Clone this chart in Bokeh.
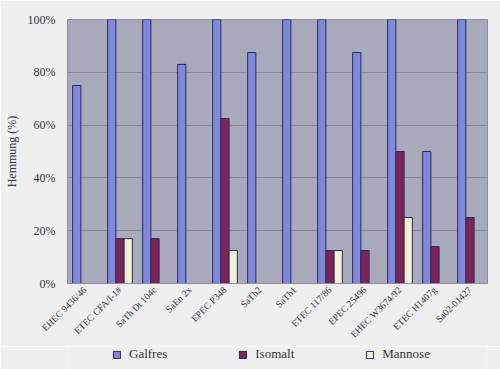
from bokeh.plotting import figure
from bokeh.layouts import column
from bokeh.models import ColumnDataSource, FactorRange, Legend, LegendItem, NumeralTickFormatter, FixedTicker, Range1d
from bokeh.transform import dodge
from bokeh.embed import file_html
from bokeh.resources import INLINE

strains = ["EHEC 9436/46", "ETEC CFA/I-1#", "SaTh Dt 104c", "SaEn 2x", "EPEC P348",
           "SaTh2", "SaTh1", "ETEC 117/86", "EPEC 25496", "EHEC W3674/92",
           "ETEC H1407g", "Sa02-01427"]
galfres = [75, 100, 100, 83, 100, 87.5, 100, 100, 87.5, 100, 50, 100]
isomalt = [0, 17, 17, 0, 62.5, 0, 0, 12.5, 12.5, 50, 14, 25]
mannose = [0, 17, 0, 0, 12.5, 0, 0, 12.5, 0, 25, 0, 0]
series = ["Galfres", "Isomalt", "Mannose"]
colors = ["#8088dc", "#7c2458", "#f2f0d4"]
yticks = [0, 20, 40, 60, 80, 100]

BG = "#efefef"
EDGE = "#2a2a5c"
fonts = "Liberation Serif"

src = ColumnDataSource(dict(x=strains, g=[v / 100 for v in galfres],
                            i=[v / 100 for v in isomalt], m=[v / 100 for v in mannose]))

p = figure(width=500, height=346, x_range=FactorRange(*strains), y_range=(0, 1),
           output_backend="svg", toolbar_location=None,
           min_border_left=67, min_border_right=13, min_border_top=19, min_border_bottom=61,
           background_fill_color="#a9a9bc", border_fill_color=BG,
           outline_line_color="#8c8ca0")

w = 0.235
for col, off, c in zip(["g", "i", "m"], [-0.235, 0.0, 0.235], colors):
    p.vbar(x=dodge("x", off, range=p.x_range), top=col, width=w, source=src,
           fill_color=c, line_color=EDGE, line_width=1)

p.xgrid.grid_line_color = None
p.ygrid.grid_line_color = "#8a8a9c"
p.ygrid.grid_line_width = 1
p.yaxis.ticker = FixedTicker(ticks=[t / 100 for t in yticks])
p.yaxis.formatter = NumeralTickFormatter(format="0%")
p.yaxis.axis_label = "Hemmung (%)"
p.yaxis.axis_label_text_font = fonts
p.yaxis.axis_label_text_font_style = "normal"
p.yaxis.axis_label_text_font_size = "12px"
p.yaxis.axis_label_text_color = "#333344"
p.yaxis.axis_label_standoff = 6
p.yaxis.major_label_text_font = fonts
p.yaxis.major_label_text_font_size = "12px"
p.yaxis.major_label_text_color = "#333344"
p.yaxis.major_tick_out = 0
p.yaxis.major_label_standoff = 12
p.yaxis.axis_line_color = "#8c8ca0"
p.yaxis.major_tick_line_color = None
p.yaxis.minor_tick_line_color = None

p.xaxis.major_label_orientation = 0.785
p.xaxis.major_label_text_font = fonts
p.xaxis.major_label_text_font_size = "9.5px"
p.xaxis.major_label_text_color = "#333344"
p.xaxis.major_tick_out = 0
p.xaxis.major_label_standoff = 5
p.xaxis.axis_line_color = "#8c8ca0"
p.xaxis.major_tick_line_color = None

# legend strip
q = figure(width=500, height=23, x_range=Range1d(0, 1), y_range=Range1d(0, 1),
           output_backend="svg", toolbar_location=None,
           min_border_left=67, min_border_right=13, min_border_top=0, min_border_bottom=0,
           background_fill_color=BG, border_fill_color=BG, outline_line_color=None)
q.axis.visible = False
q.grid.visible = False
items = []
for name, c in zip(series, colors):
    r = q.vbar(x=[-10], top=[-10], bottom=[-11], width=0.1,
               fill_color=c, line_color=EDGE, line_width=1)
    items.append(LegendItem(label=name, renderers=[r]))
legend = Legend(items=items, orientation="horizontal", location=(45, 7),
                label_text_font=fonts, label_text_font_size="13px",
                label_text_color="#333344",
                glyph_width=9, glyph_height=9, spacing=71, padding=0, margin=0,
                label_standoff=8, label_height=14,
                background_fill_alpha=0, border_line_color=None)
q.add_layout(legend, "center")

layout = column(p, q, spacing=0)
open("out.html", "w").write(file_html(layout, INLINE))
